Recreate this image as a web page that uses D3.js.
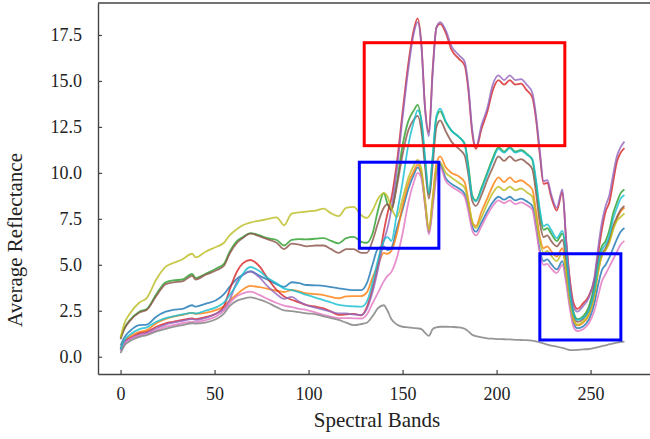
<!DOCTYPE html>
<html>
<head>
<meta charset="utf-8">
<script src="https://cdn.jsdelivr.net/npm/d3@7"></script>
<style>
  html, body { margin: 0; padding: 0; background: #fff; }
  svg { display: block; }
  text { font-family: "Liberation Serif", "Times New Roman", serif; fill: #222; }
</style>
</head>
<body>
<svg id="chart" width="650" height="439"></svg>
<script>
// Spectral band indices at which the mean reflectance curves are sampled
const bands = [0, 2, 5, 10, 14, 19, 24, 28, 33, 38,
  40, 45, 51, 55, 58, 62, 65, 69, 74, 78,
  83, 87, 91, 95, 99, 104, 108, 112, 116, 120,
  124, 128, 131, 134, 137, 140, 142, 144, 147, 150,
  153, 156, 158, 160, 162, 164, 166, 168, 170, 173,
  176, 180, 183, 185, 187, 189, 192, 195, 198, 201,
  204, 207, 210, 213, 216, 219, 221, 223, 225, 227,
  229, 232, 235, 237, 239, 241, 243, 246, 249, 252,
  254, 256, 258, 260, 262, 264, 266, 268];

const blueVals = [0.6, 1.05, 1.4, 1.72, 1.75, 2.18, 2.45, 2.55, 2.6, 2.8,
  2.72, 2.88, 3.08, 3.4, 3.8, 4.25, 4.45, 4.65, 4.4, 4.2,
  3.95, 3.8, 4.05, 4.0, 3.9, 3.88, 3.85, 3.78, 3.72, 3.66,
  3.62, 3.62, 4.0, 5.0, 5.9, 6.0, 5.8, 5.9, 7.0, 8.0,
  9.1, 9.9, 10.3, 9.9, 8.3, 6.75, 8.3, 10.0, 10.45, 9.7,
  9.4, 9.15, 8.85, 8.1, 7.1, 6.8, 7.3, 7.9, 8.4, 8.7,
  8.55, 8.7, 8.5, 8.6, 8.45, 8.2, 7.1, 5.8, 5.2, 5.3,
  5.05, 4.75, 5.2, 4.2, 2.8, 1.8, 1.55, 1.65, 2.0, 2.9,
  3.9, 4.7, 5.0, 5.4, 5.9, 6.4, 6.8, 7.0];

const orangeVals = [0.45, 0.85, 1.1, 1.35, 1.45, 1.82, 2.05, 2.18, 2.28, 2.38,
  2.33, 2.38, 2.55, 2.75, 3.05, 3.4, 3.65, 3.85, 3.78, 3.7,
  3.58, 3.52, 3.63, 3.55, 3.45, 3.4, 3.35, 3.25, 3.18, 3.28,
  3.3, 3.3, 3.5, 4.3, 5.0, 5.65, 5.6, 5.75, 6.7, 8.2,
  9.4, 10.1, 10.45, 10.0, 8.4, 6.85, 8.6, 10.5, 10.9, 10.3,
  10.0, 9.8, 9.5, 8.5, 7.3, 7.1, 7.9, 8.6, 9.3, 9.75,
  9.5, 9.75, 9.5, 9.6, 9.4, 9.1, 7.9, 6.5, 5.9, 6.0,
  5.75, 5.45, 5.9, 4.8, 3.1, 2.0, 1.7, 1.85, 2.25, 3.3,
  4.6, 5.5, 5.8, 6.3, 7.0, 7.5, 7.9, 8.1];

const greenVals = [1.0, 1.55, 2.0, 2.45, 2.6, 3.4, 4.05, 4.15, 4.2, 4.5,
  4.28, 4.5, 4.8, 5.05, 5.7, 6.3, 6.5, 6.72, 6.6, 6.45,
  6.35, 6.05, 6.35, 6.4, 6.38, 6.42, 6.45, 6.3, 6.17, 6.45,
  6.52, 6.25, 6.2, 6.7, 8.0, 8.9, 8.3, 7.95, 9.5, 11.5,
  12.8, 13.4, 13.7, 12.8, 10.6, 8.8, 10.8, 13.0, 13.35, 12.75,
  12.3, 11.95, 11.6, 10.4, 8.8, 8.5, 9.2, 10.0, 10.8, 11.4,
  11.15, 11.4, 11.15, 11.25, 11.05, 10.7, 9.4, 7.8, 6.9, 7.0,
  6.7, 6.3, 6.7, 5.6, 3.6, 2.4, 2.05, 2.2, 2.7, 3.9,
  5.3, 6.0, 6.3, 6.9, 7.8, 8.4, 8.9, 9.1];

const redVals = [0.4, 0.8, 1.0, 1.27, 1.35, 1.63, 1.82, 1.9, 2.0, 2.08,
  2.05, 2.15, 2.35, 2.75, 3.63, 4.65, 5.08, 5.26, 4.9, 4.3,
  3.63, 3.28, 3.1, 2.95, 2.8, 2.72, 2.63, 2.45, 2.28, 2.3,
  2.33, 2.25, 2.7, 3.7, 5.0, 6.8, 7.8, 8.6, 10.6, 13.3,
  15.9, 17.8, 18.4, 17.0, 13.5, 12.2, 15.6, 17.9, 18.1, 17.6,
  16.7, 16.2, 15.85, 14.5, 12.2, 11.3, 12.4, 13.3, 14.5, 15.05,
  14.8, 15.05, 14.8, 14.85, 14.5, 14.1, 12.9, 11.0, 9.4, 9.45,
  8.7, 7.95, 8.95, 6.35, 4.2, 2.9, 2.6, 2.9, 3.3, 4.2,
  5.6, 6.9, 7.9, 8.4, 9.5, 10.6, 11.1, 11.35];

const purpleVals = [0.38, 0.78, 0.98, 1.2, 1.3, 1.55, 1.75, 1.85, 1.95, 2.05,
  2.0, 2.1, 2.35, 2.6, 3.08, 4.1, 4.45, 4.63, 4.3, 3.85,
  3.4, 3.15, 3.25, 3.0, 2.8, 2.65, 2.55, 2.45, 2.36, 2.35,
  2.3, 2.27, 2.6, 3.5, 4.8, 6.3, 7.0, 8.0, 10.2, 13.0,
  15.6, 17.6, 18.2, 16.9, 13.4, 12.0, 15.4, 17.9, 18.2, 17.75,
  16.9, 16.4, 16.05, 14.7, 12.4, 11.4, 12.6, 13.5, 14.8, 15.3,
  15.05, 15.3, 15.05, 15.1, 14.8, 14.35, 13.1, 11.2, 9.55, 9.6,
  8.85, 8.1, 9.1, 6.3, 4.0, 2.7, 2.45, 2.75, 3.2, 4.3,
  5.9, 7.3, 8.2, 8.8, 9.9, 10.9, 11.4, 11.7];

const brownVals = [0.95, 1.5, 1.95, 2.4, 2.55, 3.3, 3.95, 4.05, 4.1, 4.4,
  4.2, 4.45, 4.7, 4.95, 5.6, 6.2, 6.45, 6.7, 6.55, 6.4,
  6.2, 5.85, 6.15, 6.1, 6.0, 6.05, 6.05, 5.85, 5.65, 5.85,
  5.85, 5.65, 5.65, 6.3, 7.3, 8.1, 8.3, 8.0, 9.3, 11.0,
  12.3, 12.9, 13.1, 12.3, 10.3, 8.6, 10.4, 12.5, 12.85, 12.25,
  11.7, 11.3, 10.95, 9.9, 8.5, 8.2, 8.8, 9.6, 10.3, 10.9,
  10.65, 10.9, 10.65, 10.75, 10.55, 10.2, 8.9, 7.3, 6.5, 6.6,
  6.3, 6.0, 6.35, 5.3, 3.4, 2.2, 1.9, 2.05, 2.5, 3.6,
  4.9, 5.6, 5.9, 6.4, 7.1, 7.6, 8.0, 8.2];

const pinkVals = [0.3, 0.7, 0.95, 1.15, 1.25, 1.45, 1.62, 1.72, 1.82, 1.9,
  1.88, 1.98, 2.2, 2.5, 2.9, 3.3, 3.45, 3.54, 3.35, 3.15,
  2.92, 2.78, 2.7, 2.6, 2.54, 2.4, 2.27, 2.18, 2.1, 2.1,
  2.09, 2.08, 2.3, 2.9, 3.5, 4.1, 4.4, 4.6, 5.4, 6.7,
  8.35, 9.5, 10.0, 9.7, 8.2, 6.65, 8.1, 9.8, 10.3, 9.55,
  9.25, 9.0, 8.7, 7.9, 6.9, 6.6, 7.1, 7.7, 8.2, 8.5,
  8.35, 8.5, 8.3, 8.4, 8.25, 8.0, 6.9, 5.6, 5.0, 5.05,
  4.8, 4.55, 5.0, 4.0, 2.6, 1.6, 1.4, 1.5, 1.8, 2.5,
  3.3, 4.1, 4.5, 4.9, 5.3, 5.7, 6.1, 6.3];

const grayVals = [0.2, 0.6, 0.85, 1.08, 1.18, 1.38, 1.52, 1.62, 1.72, 1.82,
  1.8, 1.86, 2.05, 2.35, 2.75, 3.05, 3.15, 3.23, 3.1, 2.95,
  2.7, 2.52, 2.48, 2.42, 2.36, 2.3, 2.2, 2.1, 2.0, 1.85,
  1.72, 1.78, 1.85, 2.2, 2.65, 2.8, 2.5, 2.05, 1.75, 1.63,
  1.6, 1.56, 1.54, 1.5, 1.3, 1.13, 1.5, 1.6, 1.63, 1.63,
  1.62, 1.6, 1.52, 1.38, 1.2, 1.12, 1.05, 1.0, 0.98, 0.96,
  0.95, 0.94, 0.92, 0.91, 0.9, 0.87, 0.84, 0.78, 0.72, 0.66,
  0.6, 0.55, 0.48, 0.42, 0.36, 0.36, 0.37, 0.4, 0.42, 0.48,
  0.52, 0.58, 0.62, 0.68, 0.72, 0.77, 0.8, 0.82];

const oliveVals = [1.05, 1.8, 2.35, 2.95, 3.2, 4.2, 4.9, 5.1, 5.3, 5.6,
  5.4, 5.7, 5.98, 6.2, 6.6, 6.95, 7.15, 7.3, 7.4, 7.48,
  7.58, 7.15, 7.78, 7.85, 7.9, 7.95, 8.05, 7.8, 7.65, 8.1,
  8.15, 7.7, 7.55, 7.95, 8.6, 8.9, 8.7, 8.1, 7.6, 8.6,
  9.7, 10.4, 10.7, 10.2, 8.5, 6.9, 8.6, 10.2, 10.55, 10.0,
  9.75, 9.45, 9.2, 8.4, 7.4, 7.0, 7.6, 8.3, 8.9, 9.25,
  9.05, 9.25, 9.05, 9.15, 8.95, 8.7, 7.6, 6.3, 5.65, 5.75,
  5.5, 5.2, 5.65, 4.6, 3.0, 2.0, 1.75, 1.9, 2.3, 3.3,
  4.6, 5.5, 5.8, 6.2, 6.9, 7.4, 7.6, 7.8];

const cyanVals = [0.4, 0.9, 1.2, 1.5, 1.6, 1.9, 2.1, 2.2, 2.3, 2.38,
  2.35, 2.5, 2.7, 2.95, 3.36, 3.95, 4.5, 4.88, 4.65, 4.3,
  4.0, 3.7, 3.62, 3.5, 3.36, 3.2, 3.08, 2.95, 2.82, 2.76,
  2.74, 2.72, 3.0, 4.0, 5.3, 6.3, 6.5, 6.3, 7.8, 9.5,
  11.5, 12.8, 13.4, 12.9, 10.8, 8.9, 10.9, 13.1, 13.5, 12.8,
  12.3, 11.95, 11.55, 10.2, 8.7, 8.45, 9.1, 9.9, 10.7, 11.3,
  11.1, 11.35, 11.1, 11.2, 11.0, 10.75, 9.6, 8.0, 7.1, 7.2,
  6.9, 6.45, 6.85, 5.7, 3.5, 2.3, 2.0, 2.1, 2.5, 3.6,
  5.0, 5.8, 6.1, 6.6, 7.5, 8.1, 8.6, 8.8];

// Series in drawing order with their line colours
const seriesValues = [blueVals, orangeVals, greenVals, redVals, purpleVals,
  brownVals, pinkVals, grayVals, oliveVals, cyanVals];
const seriesColors = ["#1f77b4", "#ff7f0e", "#2ca02c", "#d62728", "#9467bd",
  "#8c564b", "#e377c2", "#7f7f7f", "#bcbd22", "#17becf"];

const xTicks = [0, 50, 100, 150, 200, 250];
const yTicks = [0, 2.5, 5, 7.5, 10, 12.5, 15, 17.5];

// Highlighted spectral regions: [band start, band end, reflectance top, reflectance bottom]
const redRegions = [[129.6, 236.3, 17.08, 11.48]];
const blueRegions = [[127.0, 169.3, 10.58, 5.9], [223.0, 266.1, 5.6, 0.91]];

const svg = d3.select("#chart");
const plotLeft = 98, plotRight = 650, plotTop = 3, plotBottom = 374;

const x = d3.scaleLinear().domain([-12, 281.6]).range([plotLeft, plotRight]);
const y = d3.scaleLinear().domain([-0.94, 19.24]).range([plotBottom, plotTop]);

// Spectral curves
const line = d3.line()
  .x((d, i) => x(bands[i]))
  .y(d => y(d))
  .curve(d3.curveMonotoneX);

svg.append("g")
  .selectAll("path")
  .data(seriesValues)
  .join("path")
  .attr("d", line)
  .attr("fill", "none")
  .attr("stroke", (d, i) => seriesColors[i])
  .attr("stroke-width", 1.8)
  .attr("stroke-opacity", 0.82)
  .attr("stroke-linejoin", "round");

// Region boxes
function drawBoxes(regions, color) {
  svg.append("g")
    .selectAll("rect")
    .data(regions)
    .join("rect")
    .attr("x", d => x(d[0]))
    .attr("y", d => y(d[2]))
    .attr("width", d => x(d[1]) - x(d[0]))
    .attr("height", d => y(d[3]) - y(d[2]))
    .attr("fill", "none")
    .attr("stroke", color)
    .attr("stroke-width", 3);
}
drawBoxes(redRegions, "#ff0000");
drawBoxes(blueRegions, "#0000ff");

// Axes with inward ticks
const yAxis = d3.axisLeft(y).tickValues(yTicks).tickFormat(d3.format(".1f"))
  .tickSizeInner(-4).tickSizeOuter(0).tickPadding(16);
const xAxis = d3.axisBottom(x).tickValues(xTicks).tickFormat(d3.format("d"))
  .tickSizeInner(-4).tickSizeOuter(0).tickPadding(13);

const gy = svg.append("g").attr("transform", `translate(${plotLeft},0)`).call(yAxis);
const gx = svg.append("g").attr("transform", `translate(0,${plotBottom})`).call(xAxis);

[gy, gx].forEach(g => {
  g.select(".domain").attr("stroke", "#444").attr("stroke-width", 1.4);
  g.selectAll(".tick line").attr("stroke", "#444").attr("stroke-width", 1.2);
  g.selectAll(".tick text")
    .attr("font-family", "Liberation Serif, Times New Roman, serif")
    .attr("font-size", 18)
    .attr("fill", "#222");
});

// Top frame line
svg.append("line")
  .attr("x1", plotLeft).attr("x2", plotRight)
  .attr("y1", plotTop).attr("y2", plotTop)
  .attr("stroke", "#444").attr("stroke-width", 1.4);

// Axis titles
svg.append("text")
  .attr("x", 377).attr("y", 427)
  .attr("text-anchor", "middle")
  .attr("font-size", 21)
  .text("Spectral Bands");

svg.append("text")
  .attr("transform", "translate(21.5,240) rotate(-90)")
  .attr("text-anchor", "middle")
  .attr("font-size", 21)
  .text("Average Reflectance");
</script>
</body>
</html>
